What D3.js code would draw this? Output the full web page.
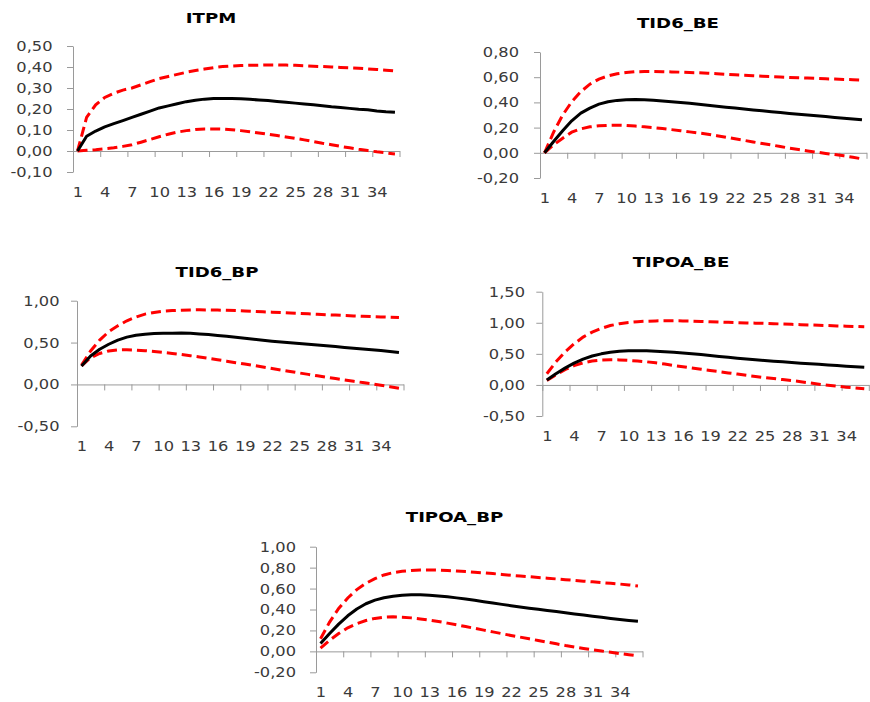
<!DOCTYPE html>
<html>
<head>
<meta charset="utf-8">
<script src="https://cdn.jsdelivr.net/npm/d3@7"></script>
<style>
  body { margin: 0; background: #fff; }
  svg text { font-family: "DejaVu Sans", sans-serif; }
</style>
</head>
<body>
<div id="chart-area"></div>
<script>
// periods 1..36, labels every 3rd period
let periods = d3.range(1, 37);
let xLabels = [1, 4, 7, 10, 13, 16, 19, 22, 25, 28, 31, 34];

let titles = ["ITPM", "TID6_BE", "TID6_BP", "TIPOA_BE", "TIPOA_BP"];

// y tick labels of each panel
let yTicksITPM = [-0.1, 0, 0.1, 0.2, 0.3, 0.4, 0.5];
let yTicksTID6BE = [-0.2, 0, 0.2, 0.4, 0.6, 0.8];
let yTicksTID6BP = [-0.5, 0, 0.5, 1.0];
let yTicksTIPOABE = [-0.5, 0, 0.5, 1.0, 1.5];
let yTicksTIPOABP = [-0.2, 0, 0.2, 0.4, 0.6, 0.8, 1.0];

// ITPM
let itpmMid = [0.00, 0.07, 0.095, 0.115, 0.13, 0.145, 0.16, 0.175, 0.19, 0.205, 0.215, 0.225,
  0.235, 0.242, 0.247, 0.25, 0.25, 0.25, 0.249, 0.246, 0.243, 0.24, 0.236, 0.232,
  0.228, 0.224, 0.22, 0.216, 0.211, 0.207, 0.203, 0.199, 0.196, 0.191, 0.187, 0.184];
let itpmUp = [0.00, 0.16, 0.22, 0.255, 0.275, 0.29, 0.30, 0.315, 0.33, 0.345, 0.355, 0.365,
  0.375, 0.383, 0.39, 0.397, 0.402, 0.405, 0.407, 0.408, 0.409, 0.41, 0.41, 0.409,
  0.408, 0.406, 0.404, 0.402, 0.40, 0.398, 0.396, 0.394, 0.391, 0.388, 0.385, 0.381];
let itpmLow = [0.00, 0.003, 0.006, 0.01, 0.015, 0.022, 0.03, 0.042, 0.055, 0.068, 0.08, 0.09,
  0.097, 0.102, 0.105, 0.105, 0.104, 0.101, 0.097, 0.092, 0.086, 0.08, 0.074, 0.067,
  0.06, 0.053, 0.045, 0.037, 0.03, 0.022, 0.015, 0.008, 0.002, -0.004, -0.009, -0.014];

// TID6_BE
let tid6beMid = [0.00, 0.09, 0.175, 0.254, 0.315, 0.355, 0.386, 0.405, 0.416, 0.421, 0.423, 0.422,
  0.418, 0.412, 0.406, 0.40, 0.393, 0.386, 0.378, 0.37, 0.362, 0.355, 0.348, 0.34,
  0.333, 0.326, 0.319, 0.312, 0.306, 0.3, 0.294, 0.288, 0.281, 0.275, 0.268, 0.262];
let tid6beUp = [0.00, 0.164, 0.30, 0.405, 0.485, 0.545, 0.585, 0.61, 0.627, 0.637, 0.643, 0.645,
  0.645, 0.644, 0.642, 0.64, 0.637, 0.635, 0.632, 0.628, 0.623, 0.619, 0.615, 0.612,
  0.608, 0.605, 0.601, 0.598, 0.595, 0.593, 0.59, 0.587, 0.585, 0.582, 0.58, 0.577];
let tid6beLow = [0.00, 0.063, 0.116, 0.164, 0.19, 0.206, 0.214, 0.218, 0.219, 0.217, 0.212, 0.206,
  0.2, 0.192, 0.184, 0.175, 0.166, 0.157, 0.148, 0.136, 0.124, 0.111, 0.099, 0.086,
  0.074, 0.062, 0.05, 0.037, 0.026, 0.015, 0.005, -0.005, -0.014, -0.024, -0.036, -0.048];

// TID6_BP
let tid6bpMid = [0.22, 0.34, 0.42, 0.48, 0.53, 0.565, 0.588, 0.60, 0.607, 0.61, 0.612, 0.613,
  0.61, 0.603, 0.595, 0.585, 0.575, 0.563, 0.552, 0.54, 0.528, 0.517, 0.508, 0.499,
  0.49, 0.481, 0.472, 0.462, 0.452, 0.442, 0.432, 0.423, 0.414, 0.404, 0.393, 0.381];
let tid6bpUp = [0.23, 0.40, 0.53, 0.63, 0.70, 0.76, 0.805, 0.84, 0.86, 0.875, 0.882, 0.887,
  0.89, 0.891, 0.89, 0.888, 0.885, 0.882, 0.878, 0.873, 0.868, 0.863, 0.858, 0.853,
  0.848, 0.843, 0.838, 0.833, 0.828, 0.823, 0.818, 0.814, 0.81, 0.806, 0.802, 0.798];
let tid6bpLow = [0.22, 0.32, 0.37, 0.40, 0.412, 0.414, 0.41, 0.403, 0.393, 0.382, 0.37, 0.357,
  0.343, 0.328, 0.312, 0.295, 0.278, 0.26, 0.243, 0.226, 0.208, 0.19, 0.172, 0.155,
  0.137, 0.12, 0.103, 0.086, 0.07, 0.054, 0.038, 0.022, 0.007, -0.01, -0.027, -0.045];

// TIPOA_BE
let tipoabeMid = [0.08, 0.18, 0.27, 0.35, 0.415, 0.465, 0.50, 0.525, 0.54, 0.548, 0.55, 0.548,
  0.542, 0.535, 0.525, 0.512, 0.50, 0.488, 0.472, 0.458, 0.444, 0.43, 0.418, 0.406,
  0.394, 0.382, 0.371, 0.36, 0.35, 0.341, 0.332, 0.322, 0.312, 0.302, 0.294, 0.286];
let tipoabeUp = [0.18, 0.37, 0.53, 0.66, 0.77, 0.85, 0.91, 0.955, 0.985, 1.005, 1.018, 1.025,
  1.03, 1.032, 1.032, 1.03, 1.027, 1.022, 1.017, 1.012, 1.007, 1.002, 0.998, 0.994,
  0.99, 0.985, 0.98, 0.975, 0.97, 0.965, 0.96, 0.955, 0.95, 0.945, 0.94, 0.935];
let tipoabeLow = [0.07, 0.16, 0.245, 0.31, 0.355, 0.385, 0.40, 0.405, 0.403, 0.395, 0.385, 0.372,
  0.355, 0.335, 0.312, 0.292, 0.272, 0.252, 0.232, 0.213, 0.193, 0.174, 0.155, 0.137,
  0.118, 0.102, 0.086, 0.07, 0.052, 0.032, 0.012, -0.005, -0.02, -0.036, -0.05, -0.063];

// TIPOA_BP
let tipoabpMid = [0.075, 0.17, 0.26, 0.34, 0.405, 0.455, 0.49, 0.512, 0.527, 0.537, 0.54, 0.54,
  0.537, 0.53, 0.521, 0.511, 0.50, 0.488, 0.475, 0.462, 0.449, 0.436, 0.424, 0.413,
  0.402, 0.391, 0.38, 0.369, 0.358, 0.347, 0.336, 0.325, 0.315, 0.305, 0.296, 0.287];
let tipoabpUp = [0.12, 0.28, 0.41, 0.51, 0.59, 0.65, 0.695, 0.73, 0.752, 0.765, 0.773, 0.777,
  0.778, 0.776, 0.772, 0.767, 0.762, 0.756, 0.75, 0.743, 0.735, 0.727, 0.72, 0.713,
  0.706, 0.699, 0.692, 0.685, 0.678, 0.671, 0.664, 0.657, 0.65, 0.643, 0.635, 0.625];
let tipoabpLow = [0.03, 0.105, 0.17, 0.225, 0.265, 0.295, 0.315, 0.327, 0.33, 0.327, 0.32, 0.31,
  0.298, 0.285, 0.27, 0.254, 0.237, 0.22, 0.203, 0.186, 0.169, 0.152, 0.136, 0.12,
  0.104, 0.088, 0.072, 0.056, 0.042, 0.028, 0.015, 0.003, -0.009, -0.021, -0.032, -0.043];

let width = 870, height = 702;

let svg = d3.select("#chart-area").append("svg")
    .attr("width", width)
    .attr("height", height);

// excel style number format: 0,50 / -0,10
let fmt = d3.formatLocale({decimal: ",", thousands: ".", grouping: [3], currency: ["", ""], minus: "-"})
    .format(".2f");

// where each little chart sits on the page
let panels = [
  {title: titles[0], ticks: yTicksITPM, mid: itpmMid, up: itpmUp, low: itpmLow,
   left: 73, right: 399.5, top: 46, bottom: 172, tx: 211, ty: 23, gap: 20.5},
  {title: titles[1], ticks: yTicksTID6BE, mid: tid6beMid, up: tid6beUp, low: tid6beLow,
   left: 540, right: 866.5, top: 52, bottom: 178, tx: 678, ty: 28, gap: 21},
  {title: titles[2], ticks: yTicksTID6BP, mid: tid6bpMid, up: tid6bpUp, low: tid6bpLow,
   left: 77, right: 403.5, top: 300.7, bottom: 426.3, tx: 217, ty: 276.5, gap: 17.5},
  {title: titles[3], ticks: yTicksTIPOABE, mid: tipoabeMid, up: tipoabeUp, low: tipoabeLow,
   left: 542.3, right: 868.8, top: 291.7, bottom: 416, tx: 681, ty: 266.5, gap: 17.3},
  {title: titles[4], ticks: yTicksTIPOABP, mid: tipoabpMid, up: tipoabpUp, low: tipoabpLow,
   left: 316, right: 642.5, top: 546.7, bottom: 672.3, tx: 454.5, ty: 522, gap: 20}
];

let axisColor = "#9a9a9a";
let labelScale = 1.16;

panels.forEach(p => {
    let g = svg.append("g");

    let x = d3.scaleLinear()
        .domain([0.5, periods.length + 0.5])
        .range([p.left, p.right]);
    let y = d3.scaleLinear()
        .domain([p.ticks[0], p.ticks[p.ticks.length - 1]])
        .range([p.bottom, p.top]);

    // title
    g.append("text")
        .attr("transform", "translate(" + p.tx + "," + p.ty + ") scale(1.25,1)")
        .attr("text-anchor", "middle")
        .attr("font-size", "14.5px")
        .attr("font-weight", "bold")
        .attr("fill", "#000")
        .text(p.title);

    // y axis
    let yAxis = g.append("g")
        .attr("transform", "translate(" + p.left + ",0)")
        .call(d3.axisLeft(y).tickValues(p.ticks).tickFormat(fmt).tickSize(6).tickSizeOuter(0));
    yAxis.select(".domain").attr("stroke", axisColor);
    yAxis.selectAll("line").attr("stroke", axisColor);
    yAxis.selectAll("text")
        .attr("x", -p.gap / labelScale)
        .attr("transform", "scale(" + labelScale + ",1)")
        .attr("font-size", "14px")
        .attr("fill", "#3a3a3a");

    // x axis line + tick marks at every 3rd category boundary
    let bounds = d3.range(0, periods.length + 1, 3).map(d => d + 0.5);
    let xAxis = g.append("g")
        .attr("transform", "translate(0," + y(0) + ")")
        .call(d3.axisBottom(x).tickValues(bounds).tickFormat("").tickSize(6).tickSizeOuter(0));
    xAxis.select(".domain").attr("stroke", axisColor);
    xAxis.selectAll("line").attr("stroke", axisColor);

    // x labels below the plot area
    let xLab = g.append("g")
        .attr("transform", "translate(0," + p.bottom + ")")
        .call(d3.axisBottom(x).tickValues(xLabels).tickFormat(d3.format("d")).tickSize(0));
    xLab.select(".domain").remove();
    xLab.selectAll("text")
        .attr("y", 25)
        .attr("dy", null)
        .attr("transform", "scale(" + labelScale + ",1)")
        .attr("font-size", "14px")
        .attr("fill", "#3a3a3a");

    let line = d3.line()
        .x((d, i) => x(periods[i]))
        .y(d => y(d));

    g.append("path")
        .attr("d", line(p.up))
        .attr("fill", "none")
        .attr("stroke", "#ff0000")
        .attr("stroke-width", 3)
        .attr("stroke-dasharray", "10,5");
    g.append("path")
        .attr("d", line(p.low))
        .attr("fill", "none")
        .attr("stroke", "#ff0000")
        .attr("stroke-width", 3)
        .attr("stroke-dasharray", "10,5");
    g.append("path")
        .attr("d", line(p.mid))
        .attr("fill", "none")
        .attr("stroke", "#000")
        .attr("stroke-width", 3)
        .attr("stroke-linejoin", "round");
});
</script>
</body>
</html>
